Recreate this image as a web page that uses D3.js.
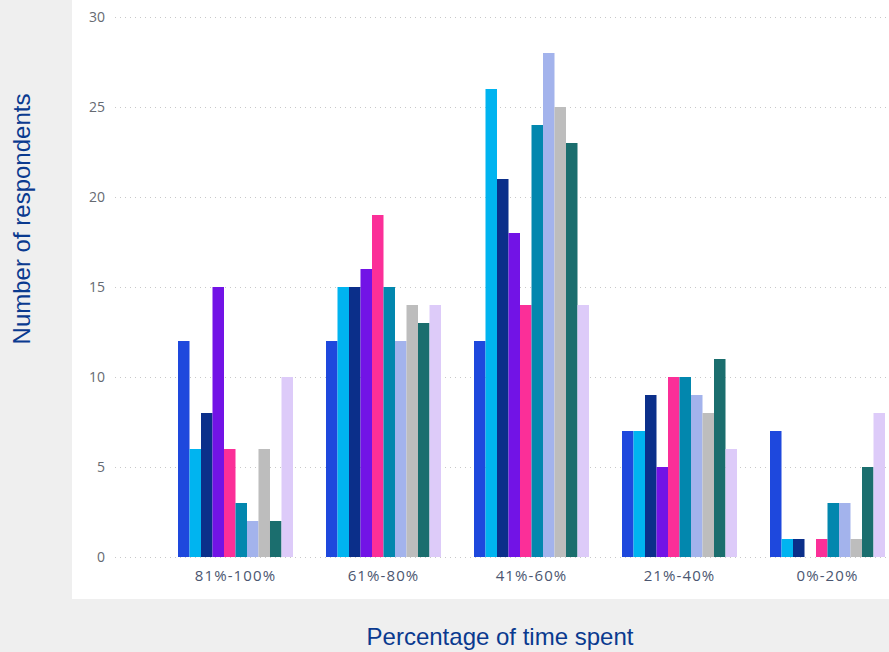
<!DOCTYPE html>
<html><head><meta charset="utf-8">
<script src="https://cdn.jsdelivr.net/npm/d3@7"></script>
<style>html,body{margin:0;padding:0;background:#efefef;}svg{display:block;}</style>
</head><body>
<svg id="chart" width="889" height="652"></svg>
<script>
const categories = ["81%-100%", "61%-80%", "41%-60%", "21%-40%", "0%-20%"];
const seriesNames = ["S1","S2","S3","S4","S5","S6","S7","S8","S9","S10"];
const seriesColors = ["#1E48DD","#00B4F0","#0B2F8A","#7213E6","#FB2F98","#0287AE","#A3B3EC","#BDBDBD","#1B6E6E","#DDCBF9"];
const values = [
  [12, 6, 8, 15, 6, 3, 2, 6, 2, 10],
  [12, 15, 15, 16, 19, 15, 12, 14, 13, 14],
  [12, 26, 21, 18, 14, 24, 28, 25, 23, 14],
  [7, 7, 9, 5, 10, 10, 9, 8, 11, 6],
  [7, 1, 1, 0, 1, 3, 3, 1, 5, 8]
];
const yTicks = [0, 5, 10, 15, 20, 25, 30];

const svg = d3.select("#chart");
svg.append("rect").attr("width", 889).attr("height", 652).attr("fill", "#efefef");
svg.append("rect").attr("x", 72).attr("y", 0).attr("width", 817).attr("height", 599).attr("fill", "#ffffff");

const y = d3.scaleLinear().domain([0, 30]).range([557, 17]);
const x0 = d3.scaleBand().domain(categories).range([178, 885]).paddingInner(0.223).paddingOuter(0);
const x1 = d3.scaleBand().domain(seriesNames).range([0, x0.bandwidth()]).padding(0);

// gridlines
svg.append("g").selectAll("line").data(yTicks).join("line")
  .attr("x1", 115).attr("x2", 889)
  .attr("y1", d => y(d) + 0.5).attr("y2", d => y(d) + 0.5)
  .attr("stroke", "#c8c8c8").attr("stroke-width", 1).attr("stroke-dasharray", "1,4");

// y axis
const yAxis = svg.append("g").attr("transform", "translate(105,0)")
  .call(d3.axisLeft(y).tickValues(yTicks).tickSize(0).tickPadding(0));
yAxis.select(".domain").remove();
yAxis.selectAll("text").attr("font-family", "'Open Sans', sans-serif").attr("font-size", 14).attr("fill", "#666a72");

// bars
const groups = svg.append("g").selectAll("g").data(values).join("g")
  .attr("transform", (d, i) => `translate(${x0(categories[i])},0)`);
groups.selectAll("rect").data(d => d.map((v, j) => ({v, s: seriesNames[j], c: seriesColors[j]})))
  .join("rect")
  .attr("x", d => x1(d.s))
  .attr("width", x1.bandwidth())
  .attr("y", d => y(d.v))
  .attr("height", d => y(0) - y(d.v))
  .attr("fill", d => d.c);

// x axis
const xAxis = svg.append("g").attr("transform", "translate(0,557)")
  .call(d3.axisBottom(x0).tickSize(0).tickPadding(13));
xAxis.select(".domain").remove();
xAxis.selectAll("text").attr("font-family", "'Open Sans', sans-serif").attr("font-size", 15)
  .attr("letter-spacing", 1.1).attr("fill", "#4b5670");

// axis titles
svg.append("text").attr("transform", "translate(30,219) rotate(-90)")
  .attr("text-anchor", "middle").attr("font-family", "'Liberation Sans', Arial, sans-serif")
  .attr("font-size", 24).attr("fill", "#0A3A8F").text("Number of respondents");
svg.append("text").attr("x", 500).attr("y", 645)
  .attr("text-anchor", "middle").attr("font-family", "'Liberation Sans', Arial, sans-serif")
  .attr("font-size", 24).attr("fill", "#0A3A8F").text("Percentage of time spent");
</script>
</body></html>
